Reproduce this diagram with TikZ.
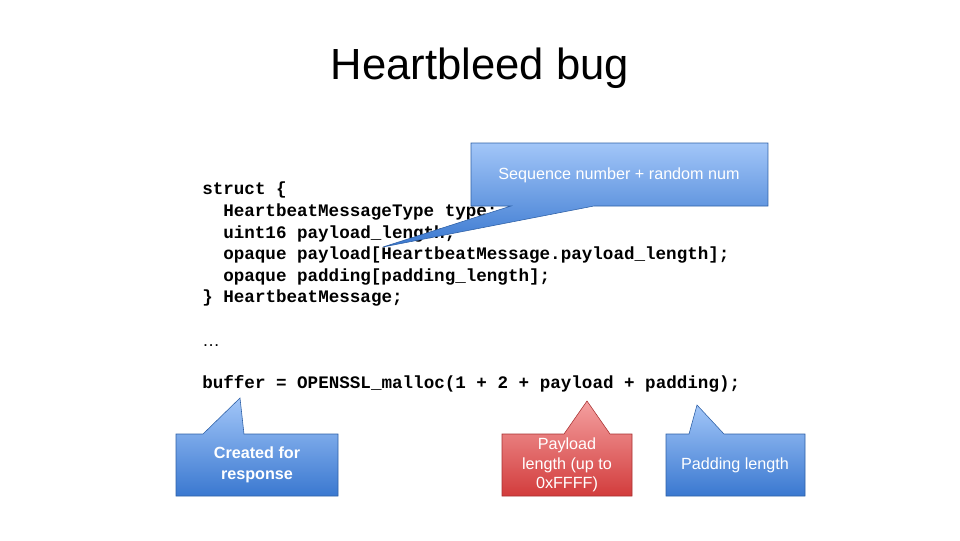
\documentclass[tikz,border=0pt]{standalone}
\usepackage{fontspec}
\setmainfont{Liberation Sans}
\newfontfamily\codefont{Liberation Mono}
\definecolor{calltop}{HTML}{A2C6F8}
\definecolor{callbot}{HTML}{3A78D0}
\definecolor{redtop}{HTML}{F4A0A0}
\definecolor{redbot}{HTML}{D23C3C}

\begin{document}
\begin{tikzpicture}[x=0.025cm,y=-0.025cm,
  code line/.style={anchor=base west,inner sep=0pt,font=\codefont\bfseries\fontsize{12.5}{14}\selectfont},
  blue callout/.style={top color=calltop,bottom color=callbot,draw=callbot!80!black,line width=0.4pt},
  red callout/.style={top color=redtop,bottom color=redbot,draw=redbot!80!black,line width=0.4pt},
  callout text/.style={text=white,align=center,font=\fontsize{11.5}{14}\selectfont}]
\useasboundingbox (0,0) rectangle (960,540);

% Title
\node (title) at (480,68) {\fontsize{31}{36}\selectfont Heartbleed bug};

% Code
\node[code line] (l1) at (202,194) {struct \{};
\node[code line] (l2) at (223,216) {HeartbeatMessageType type;};
\node[code line] (l3) at (223,238) {uint16 payload\_length;};
\node[code line] (l4) at (223,259) {opaque payload[HeartbeatMessage.payload\_length];};
\node[code line] (l5) at (223,281) {opaque padding[padding\_length];};
\node[code line] (l6) at (202,302) {\} HeartbeatMessage;};
\node[code line] (dots) at (202,346) {\fontspec{Liberation Sans}\mdseries …};
\node[code line] (buf) at (202,388) {buffer = OPENSSL\_malloc(1 + 2 + payload + padding);};

% Callouts
\path[blue callout] (471,143) -- (768,143) -- (768,206) -- (594,206) -- (383,247) -- (511,206) -- (471,206) -- cycle;
\node[callout text] (seq) at (619,175) {Sequence number + random num};

\path[blue callout] (176,434) -- (203,434) -- (240,398) -- (244,434) -- (338,434) -- (338,496) -- (176,496) -- cycle;
\node[callout text,font=\bfseries\fontsize{11.5}{15}\selectfont] (resp) at (257,465) {Created for\\response};

\path[red callout] (502,434) -- (564,434) -- (587,401) -- (610,434) -- (632,434) -- (632,496) -- (502,496) -- cycle;
\node[callout text] (plen) at (567,465) {Payload\\length (up to\\0xFFFF)};

\path[blue callout] (666,434) -- (689,434) -- (697,405) -- (724,434) -- (805,434) -- (805,496) -- (666,496) -- cycle;
\node[callout text] (pad) at (735,465) {Padding length};
\end{tikzpicture}
\end{document}
